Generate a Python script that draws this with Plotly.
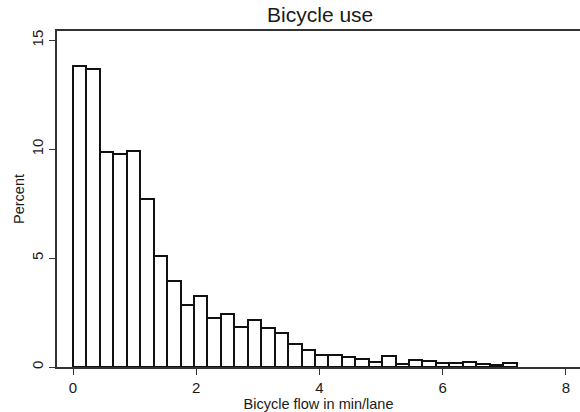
import plotly.graph_objects as go

# Histogram of bicycle flow (percent of observations per bin)
bin_start = 0.0
bin_width = 7.2 / 33
percent = [13.84, 13.67, 9.86, 9.79, 9.92, 7.72, 5.09, 3.97, 2.86, 3.26,
           2.27, 2.44, 1.86, 2.16, 1.79, 1.55, 1.04, 0.80, 0.54, 0.54,
           0.45, 0.39, 0.25, 0.52, 0.16, 0.32, 0.26, 0.20, 0.20, 0.21,
           0.16, 0.11, 0.17]
x_ticks = [0, 2, 4, 6, 8]
y_ticks = [0, 5, 10, 15]

centers = [bin_start + (i + 0.5) * bin_width for i in range(len(percent))]

fig = go.Figure(go.Bar(
    x=centers,
    y=percent,
    width=bin_width,
    marker=dict(color="white", line=dict(color="#111111", width=2)),
))

text_color = "#1a1a1a"
fig.update_layout(
    width=580, height=412,
    margin=dict(l=57, r=0, t=31, b=45),
    paper_bgcolor="white",
    plot_bgcolor="white",
    showlegend=False,
    font=dict(family="Liberation Sans, Arial, sans-serif", color=text_color),
    title=dict(text="Bicycle use", x=0.552, xanchor="center", y=0.965,
               yanchor="middle", font=dict(size=21, color=text_color)),
    bargap=0,
)
fig.update_xaxes(
    range=[-0.26, 8.23],
    tickvals=x_ticks,
    ticks="outside", ticklen=6, tickwidth=1.3, tickcolor="#333333",
    showline=True, linecolor="#333333", linewidth=1.5, mirror=True,
    showgrid=False, zeroline=False,
    tickfont=dict(size=15),
    title=dict(text="Bicycle flow in min/lane", font=dict(size=14.5), standoff=0),
)
fig.update_yaxes(
    range=[0, 15.43],
    tickvals=y_ticks,
    ticks="outside", ticklen=6, tickwidth=1.3, tickcolor="#333333",
    showline=True, linecolor="#333333", linewidth=1.5, mirror=False,
    showgrid=False, zeroline=False,
    tickangle=-90,
    tickfont=dict(size=15),
    title=dict(text="Percent", font=dict(size=14.5), standoff=1),
)

fig.write_html("out.html")
